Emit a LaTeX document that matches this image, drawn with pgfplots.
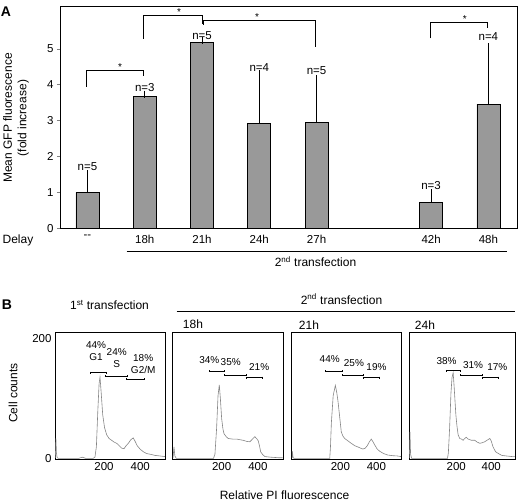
\documentclass[border=0pt]{standalone}
\usepackage{fontspec}
\setmainfont{Liberation Sans}
\usepackage{pgfplots}
\pgfplotsset{compat=1.18}
\definecolor{barfill}{HTML}{999999}
\definecolor{histline}{HTML}{858585}
\newcommand{\lab}{\fontsize{12}{14.5}\selectfont}
\newcommand{\tck}{\fontsize{11.5}{13.5}\selectfont}
\newcommand{\pct}{\fontsize{10}{12}\selectfont}
\begin{document}
\begin{tikzpicture}[x=1pt,y=1pt]
\path[use as bounding box] (0,0) rectangle (520,503);
% ---------------- Panel A ----------------
\begin{axis}[
  at={(60pt,274.7pt)}, anchor=south west, scale only axis,
  width=457pt, height=222.3pt,
  xmin=-0.48, xmax=7.5, ymin=0, ymax=6.2,
  clip=false,
  axis line style={line width=0.8pt},
  xtick={0,1,2,3,4,6,7},
  xticklabels={{-}{-},18h,21h,24h,27h,42h,48h},
  x tick style={draw=none},
  ytick={0,1,2,3,4,5},
  ytick pos=left, tick align=outside, major tick length=3pt,
  y tick style={line width=0.8pt},
  tick label style={font=\tck},
  /pgf/number format/assume math mode=true,
]
\addplot[ybar, bar width=23pt, fill=barfill, draw=black, line width=0.7pt,
  error bars/.cd, y dir=plus, y explicit,
  error bar style={line width=0.7pt, black},
  error mark options={black, line width=0.7pt, mark size=3.5pt}]
  table[x=x, y=y, y error=e] {
  x y e
  0 1.00 0.52
  1 3.67 0.07
  2 5.18 0.05
  3 2.93 1.38
  4 2.95 1.23
  6 0.71 0.28
  7 3.46 1.61
  };
\node[font=\tck] at (axis cs:0,1.71) {n=5};
\node[font=\tck] at (axis cs:1,3.92) {n=3};
\node[font=\tck] at (axis cs:2,5.37) {n=5};
\node[font=\tck] at (axis cs:3,4.49) {n=4};
\node[font=\tck] at (axis cs:4,4.39) {n=5};
\node[font=\tck] at (axis cs:6,1.18) {n=3};
\node[font=\tck] at (axis cs:7,5.34) {n=4};
% brackets
\draw[line width=0.6pt] (axis cs:-0.02,3.95) -- (axis cs:-0.02,4.41) -- (axis cs:0.98,4.41) -- (axis cs:0.98,4.25);
\draw[line width=0.6pt] (axis cs:0.98,5.28) -- (axis cs:0.98,5.94) -- (axis cs:2.01,5.94) -- (axis cs:2.01,5.70);
\draw[line width=0.6pt] (axis cs:2.03,5.68) -- (axis cs:2.03,5.81) -- (axis cs:3.98,5.81) -- (axis cs:3.98,5.07);
\draw[line width=0.6pt] (axis cs:5.98,5.30) -- (axis cs:5.98,5.75) -- (axis cs:6.99,5.75) -- (axis cs:6.99,5.60);
\node[font=\pct, inner sep=0pt] at (axis cs:0.57,4.50) {*};
\node[font=\pct, inner sep=0pt] at (axis cs:1.60,6.03) {*};
\node[font=\pct, inner sep=0pt] at (axis cs:2.96,5.90) {*};
\node[font=\pct, inner sep=0pt] at (axis cs:6.59,5.84) {*};
\end{axis}
\node[font=\bfseries\fontsize{14}{16}\selectfont] at (6,491) {A};
\node[font=\lab, rotate=90, align=center] at (16,385) {Mean GFP fluorescence\\(fold increase)};
\node[font=\lab] at (18,263) {Delay};
\draw[line width=0.7pt] (126.7,252) -- (506.7,252);
\node[font=\lab] at (315.5,241.3) {2\textsuperscript{nd} transfection};
% ---------------- Panel B ----------------
\node[font=\bfseries\fontsize{14}{16}\selectfont] at (7,198) {B};
\node[font=\lab] at (109.5,198) {1\textsuperscript{st} transfection};
\node[font=\lab] at (341.5,204) {2\textsuperscript{nd} transfection};
\draw[line width=0.7pt] (176.7,191.3) -- (515,191.3);
\node[font=\lab] at (193,179) {18h};
\node[font=\lab] at (309,178) {21h};
\node[font=\lab] at (425,178) {24h};
\node[font=\lab, rotate=90] at (13,110) {Cell counts};
\node[font=\lab] at (284.5,7.3) {Relative PI fluorescence};
\pgfplotsset{histax/.style={
  anchor=south west, scale only axis, height=126.7pt,
  xmin=-70, xmax=540, ymin=0, ymax=210, clip=false,
  axis line style={line width=0.8pt},
  xtick={200,400}, tick style={draw=none},
  tick label style={font=\tck},
  /pgf/number format/assume math mode=true,
}, gate/.style={black, line width=1pt, mark=|, mark size=1.1pt, mark options={line width=0.8pt}}}
% box 1
\begin{axis}[histax, at={(55pt,44pt)}, width=110.7pt, ytick={0,200}]
\addplot[histline, line width=0.6pt] coordinates {
(-68,2) (-65,34) (-62,10) (-58,2) (-50,1) (0,1) (60,1) (80,3) (100,1) (140,1) (150,3) (158,20) (166,80) (173,125) (178,136) (184,112) (193,73) (203,52) (215,40) (228,34) (242,31) (256,28) (270,26) (284,22) (297,18) (310,17) (322,22) (334,26) (348,32) (361,35) (372,29) (383,22) (400,16) (417,12) (435,9) (453,8) (480,6) (509,5) (536,4)};
\addplot[gate] coordinates {(127,142.7) (211,142.7)};
\addplot[gate] coordinates {(205.5,137) (328,137)};
\addplot[gate] coordinates {(325,132) (420,132)};
\node[font=\pct, align=center] at (axis cs:156,179) {44\%\\G1};
\node[font=\pct, align=center] at (axis cs:270,167) {24\%\\S};
\node[font=\pct, align=center] at (axis cs:416,157) {18\%\\G2/M};
\end{axis}
% box 2
\begin{axis}[histax, at={(172.7pt,44pt)}, width=110.6pt, ytick=\empty]
\addplot[histline, line width=0.6pt] coordinates {
(-68,2) (-63,20) (-58,5) (-50,1) (100,1) (155,1) (163,8) (172,50) (180,105) (187,123) (193,100) (200,67) (207,50) (213,42) (225,37) (236,34) (260,33) (283,33) (300,32) (319,31) (340,29) (356,28.6) (370,33) (383,37) (395,33) (402,30) (410,20) (415,12) (427,7) (439,4) (470,3) (521,2) (536,2)};
\addplot[gate] coordinates {(131.7,145.5) (214,145.5)};
\addplot[gate] coordinates {(214,139) (334,139)};
\addplot[gate] coordinates {(334,134.5) (426,134.5)};
\node[font=\pct] at (axis cs:131.7,164) {34\%};
\node[font=\pct] at (axis cs:250,161) {35\%};
\node[font=\pct] at (axis cs:407,153) {21\%};
\end{axis}
% box 3
\begin{axis}[histax, at={(291.7pt,44pt)}, width=110pt, ytick=\empty]
\addplot[histline, line width=0.6pt] coordinates {
(-68,2) (-66.7,13) (-62,2) (-55,1) (100,1) (141,1) (145,20) (150,60) (160,105) (172,122) (180,110) (187,95) (196,70) (205,45) (214,38) (224,34) (242,30) (260,26) (280,22) (297,20) (312,18) (325,16.5) (338,18) (349,22) (360,28) (371,33) (380,29) (389,24) (403,17) (417,13) (440,9) (462,6.6) (490,5.5) (517,5) (536,4)};
\addplot[gate] coordinates {(119,145.5) (209,145.5)};
\addplot[gate] coordinates {(209,139) (325,139)};
\addplot[gate] coordinates {(325,134.5) (417,134.5)};
\node[font=\pct] at (axis cs:141,165) {44\%};
\node[font=\pct] at (axis cs:275,158.5) {25\%};
\node[font=\pct] at (axis cs:400,153) {19\%};
\end{axis}
% box 4
\begin{axis}[histax, at={(409pt,44pt)}, width=106.7pt, ytick=\empty]
\addplot[histline, line width=0.6pt] coordinates {
(-68,2) (-64.3,45) (-61,8) (-55,1) (100,1) (150,1) (155,10) (162,50) (170,110) (176,135) (182.5,143) (188,120) (198,73) (204,55) (211,40) (220,34) (230,33) (239,31) (249,34) (257,36) (268,33) (287,31) (306,31) (320,28) (335,26) (349,27) (363,28.6) (376,31) (392,34) (400,30) (410.5,20) (425,12) (439,9.4) (460,6) (487,5) (520,4) (535,4)};
\addplot[gate] coordinates {(141,146) (226,146)};
\addplot[gate] coordinates {(226,139) (348,139)};
\addplot[gate] coordinates {(348,134.5) (443,134.5)};
\node[font=\pct] at (axis cs:145,162) {38\%};
\node[font=\pct] at (axis cs:296.5,155.7) {31\%};
\node[font=\pct] at (axis cs:435,153) {17\%};
\end{axis}
\end{tikzpicture}
\end{document}
